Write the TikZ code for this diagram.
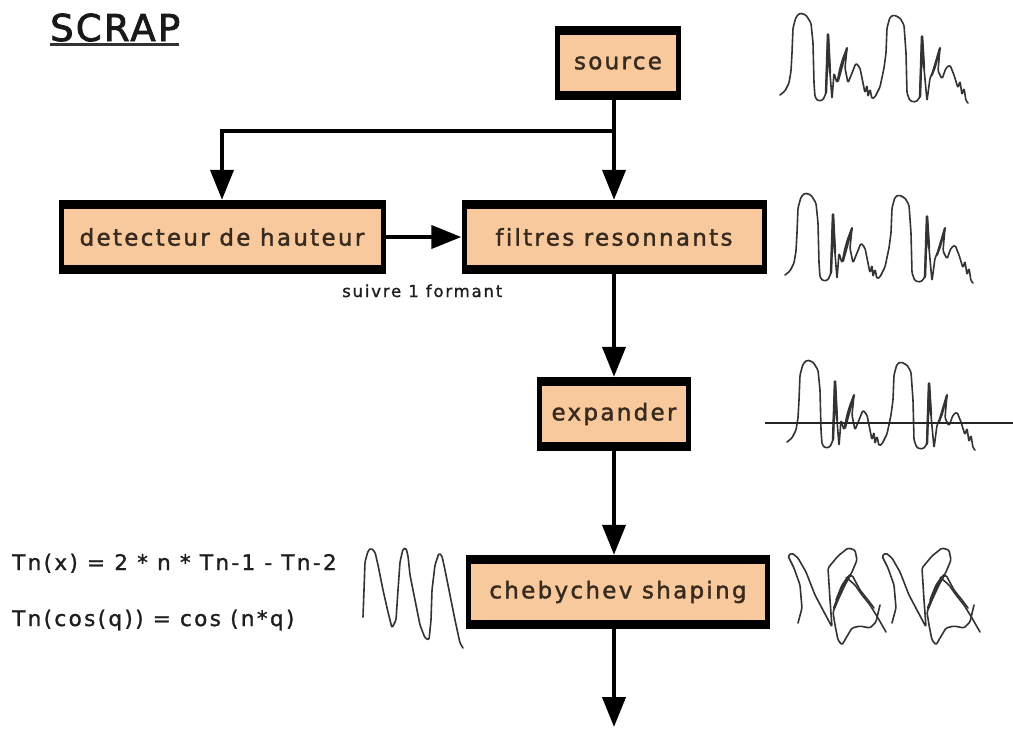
\documentclass[tikz,border=0pt]{standalone}
\usepackage{fontspec}
\setmainfont{DejaVu Sans}
\newfontfamily\gfont[LetterSpace=10, Ligatures={NoCommon}, FakeBold=1.6]{DejaVu Sans}
\newfontfamily\sfont[LetterSpace=11, Ligatures={NoCommon}, FakeBold=1.2]{DejaVu Sans}
\newfontfamily\tfont[LetterSpace=6, FakeBold=2.2]{DejaVu Sans}
\usetikzlibrary{arrows.meta}
\definecolor{peach}{RGB}{249,201,158}
\definecolor{btext}{RGB}{55,42,30}
\definecolor{ltext}{RGB}{30,30,30}
\tikzset{
  wl/.style={line width=1.6pt, black!80, line join=round, line cap=round, rounded corners=1.5pt},
  wavepic/.pic={
    \draw[wl] (0,82) -- (5,78) -- (9,70) -- (11,58) -- (12,40) -- (13,15) -- (16,4) -- (20,0) -- (26,2) -- (31,10) -- (33,30) -- (34,70) -- (35,84) -- (38,88) -- (43,87) -- (46,80) -- (48,20) -- (50,60) -- (52,86) -- (54,60) -- (57,70) -- (60,55) -- (63,45) -- (67,35) -- (65,55) -- (68,70) -- (72,60) -- (76,50) -- (80,55) -- (83,70) -- (85,80) -- (87,72) -- (88,84) -- (90,76) -- (92,86) -- (95,84) -- (100,74) -- (104,55) -- (106,40) -- (107,15) -- (110,4) -- (114,2) -- (120,5) -- (124,12) -- (126,40) -- (127,80) -- (130,88) -- (136,89) -- (140,84) -- (142,22) -- (144,55) -- (147,88) -- (150,65) -- (155,55) -- (160,35) -- (158,58) -- (162,66) -- (166,55) -- (170,52) -- (174,62) -- (178,75) -- (180,68) -- (182,82) -- (184,75) -- (186,88) -- (188,90);
    \draw[wl, line width=2.4pt] (46,80) -- (48,20) -- (50,60);
    \draw[wl, line width=2.4pt] (140,84) -- (142,22) -- (144,55);
    \draw[wl, line width=2.2pt] (58,68) -- (67,35);
    \draw[wl, line width=2.2pt] (152,62) -- (160,35);
  },
  chebpic/.pic={
    \draw[wl] (0,70) -- (4,55) -- (2,32) -- (-4,15) -- (-10,3) -- (-6,0) -- (0,5) -- (8,19) -- (17,42) -- (26,59) -- (34,74) -- (32,47) -- (30,15) -- (40,3) -- (50,-5) -- (57,-3) -- (59,7) -- (54,19) -- (47,32) -- (40,47) -- (35,59) -- (37,72) -- (40,87) -- (44,92) -- (48,85) -- (54,75) -- (62,73) -- (72,75) -- (78,69) -- (82,52);
    \draw[wl] (38,47) -- (44,32) -- (49,25) -- (57,32) -- (64,42) -- (72,52) -- (80,65) -- (88,79);
    \draw[wl] (48,25) -- (54,22) -- (62,37) -- (70,47) -- (76,55);
    \draw[wl, line width=2.4pt] (36,55) -- (44,35) -- (52,22);
  }
}
\begin{document}
\begin{tikzpicture}[x=1pt,y=-1pt,
  blk/.style={fill=black, inner sep=0pt, minimum height=74pt, text=btext,
    font=\gfont\fontsize{23}{26}\selectfont,
    path picture={\fill[peach] ([xshift=5pt,yshift=-9pt]path picture bounding box.north west) rectangle ([xshift=-5pt,yshift=9pt]path picture bounding box.south east);}},
  conn/.style={line width=4pt, -{Triangle[length=30pt,width=23pt]}},
  lbl/.style={inner sep=0pt, anchor=base west, text=ltext}]
\useasboundingbox (0,0) rectangle (1013,729);
\fill[white] (0,0) rectangle (1013,729);

% title
\node[inner sep=0pt, anchor=base west, font=\tfont\fontsize{37}{40}\selectfont, text=black!90] (title) at (50,41) {SCRAP};
\draw[line width=3pt, black!80] ([yshift=-3.5pt]title.base west) -- ([yshift=-3.5pt,xshift=-1pt]title.base east);

% boxes
\node[blk, minimum width=126pt] (src) at (618,63) {source};
\node[blk, minimum width=305pt] (fil) at (614,237) {filtres resonnants};
\node[blk, minimum width=327pt] (det) at (222,237) {detecteur de hauteur};
\node[blk, minimum width=154pt] (exp) at (614,414) {expander};
\node[blk, minimum width=304pt] (cheb) at (618,592) {chebychev shaping};

% connectors
\coordinate (br) at (614,131);
\coordinate (end) at (614,727);
\draw[conn] (src.south -| fil.north) -- (fil.north);
\draw[conn] (br) -| (det.north);
\draw[conn] (det.east) -- (fil.west);
\draw[conn] (fil.south) -- (exp.north);
\draw[conn] (exp.south) -- (exp.south |- cheb.north);
\draw[conn] (cheb.south -| end) -- (end);

% labels
\node[lbl, font=\sfont\fontsize{16.5}{18}\selectfont] (suiv) at (342,297) {suivre 1 formant};
\node[lbl, font=\sfont\fontsize{21.5}{24}\selectfont] (f1) at (12,570) {Tn(x) = 2 * n * Tn-1 - Tn-2};
\node[lbl, font=\sfont\fontsize{21.5}{24}\selectfont] (f2) at (12,626) {Tn(cos(q)) = cos (n*q)};

% waveforms
\pic at (780,13) {wavepic};
\pic at (785,193) {wavepic};
\pic at (787,360) {wavepic};
\draw[line width=2.5pt, black!85] (765,423) -- (1013,423);

\draw[wl] (363,617) -- (364,590) -- (365,562) -- (368,551) -- (371,548) -- (375,552) -- (378,565) -- (383,590) -- (388,612) -- (392,628) -- (396,620) -- (398,590) -- (400,562) -- (403,549) -- (406,548) -- (408,556) -- (410,575) -- (415,600) -- (420,625) -- (425,638) -- (429,640) -- (431,620) -- (432,590) -- (435,565) -- (439,553) -- (442,556) -- (445,570) -- (450,595) -- (455,620) -- (460,643) -- (463,648);

\pic at (798,553) {chebpic};
\pic at (892,553) {chebpic};
\end{tikzpicture}
\end{document}
